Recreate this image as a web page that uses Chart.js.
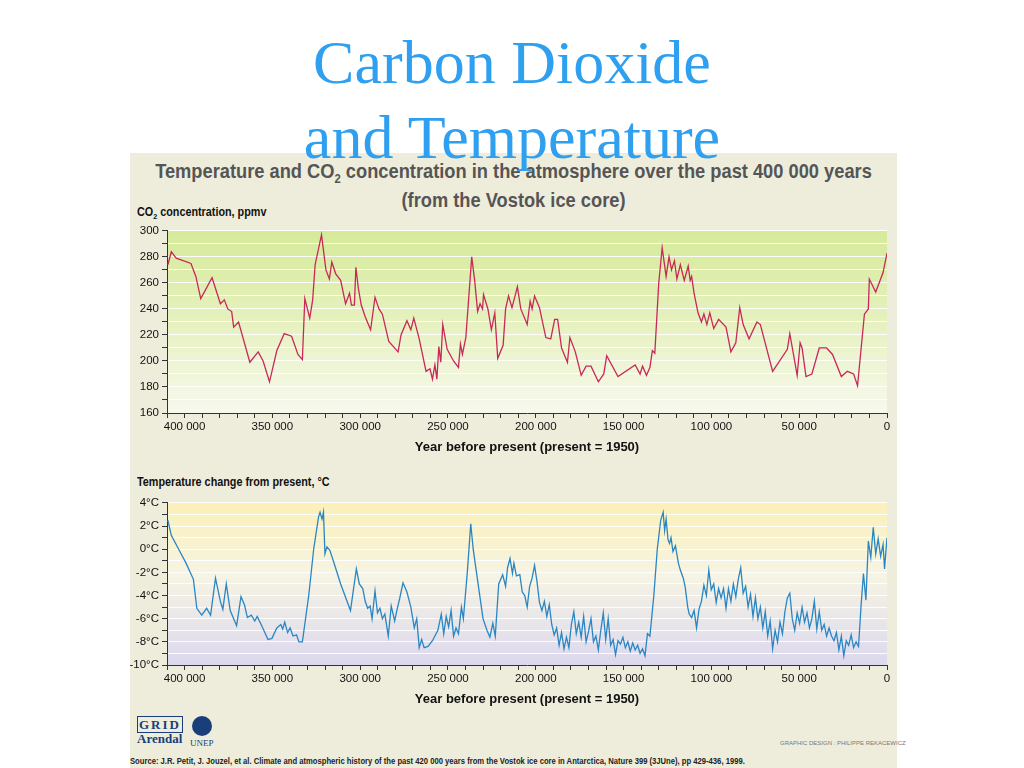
<!DOCTYPE html>
<html><head><meta charset="utf-8">
<script src="https://cdn.jsdelivr.net/npm/chart.js@4"></script>
<style>
body{margin:0;background:#fff;width:1024px;height:768px;overflow:hidden;position:relative;font-family:"Liberation Sans",Arial,sans-serif}
.t{position:absolute;left:0;width:1024px;text-align:center;font-family:"Liberation Serif","Times New Roman",serif;color:#2f9ff0;font-size:62px;line-height:62px}
#panel{position:absolute;left:130px;top:153px;width:767px;height:615px;background:#eeeddc}
.h{position:absolute;left:-100px;width:1227px;text-align:center;white-space:nowrap;color:#555;font-weight:bold;font-size:21px;transform:scaleX(0.87);transform-origin:center}
.lab{position:absolute;left:137px;font-weight:bold;font-size:12px;color:#111;transform:scaleX(0.9);transform-origin:left}
canvas{position:absolute}
</style></head><body>
<div id="panel"></div>
<div class="h" style="top:159px">Temperature and CO<sub style="font-size:13px">2</sub> concentration in the atmosphere over the past 400 000 years</div>
<div class="h" style="top:188px">(from the Vostok ice core)</div>
<div class="t" style="top:31px">Carbon Dioxide</div>
<div class="t" style="top:106px">and Temperature</div>
<div class="lab" style="top:205px">CO<sub style="font-size:8px">2</sub> concentration, ppmv</div>
<div class="lab" style="top:475px">Temperature change from present, °C</div>
<div style="position:absolute;left:137px;top:718px;font-family:'Liberation Serif',serif;font-weight:bold;color:#1a3e7a;font-size:13px;line-height:14px"><span style="border:1px solid #1a3e7a;letter-spacing:2px;padding:0 1px">GRID</span><br>Arendal</div>
<div style="position:absolute;left:192px;top:716px;width:20px;height:20px;border-radius:50%;background:#1a3e7a"></div>
<div style="position:absolute;left:190px;top:738px;font-family:'Liberation Serif',serif;color:#1a3e7a;font-size:9px">UNEP</div>
<div style="position:absolute;left:780px;top:740px;font-size:6px;color:#777">GRAPHIC DESIGN : PHILIPPE REKACEWICZ</div>
<div style="position:absolute;left:130px;top:756px;font-size:9px;color:#222;white-space:nowrap;font-weight:bold;transform:scaleX(0.85);transform-origin:left">Source: J.R. Petit, J. Jouzel, et al. Climate and atmospheric history of the past 420 000 years from the Vostok ice core in Antarctica, Nature 399 (3JUne), pp 429-436, 1999.</div>
<canvas id="c1" style="left:130px;top:221px" width="767" height="234"></canvas>
<canvas id="c2" style="left:130px;top:493px" width="767" height="214"></canvas>
<script>
// x readings are pixel offsets; converted with axis calibration (400 000 yr at 112, 0 at 1543)
const co2X=[78,85,95,125,135,145,168,185,193,200,208,212,222,245,262,272,285,300,315,330,343,352,357,367,373,378,391,400,407,412,420,430,440,448,452,458,461,466,472,480,491,500,508,515,528,547,553,565,573,579,590,604,612,617,622,626,630,634,638,647,660,670,674,678,685,697,703,709,714,719,721,730,737,744,750,761,766,772,779,786,790,797,810,816,820,825,835,848,858,866,872,880,892,897,908,920,930,940,955,966,972,995,1030,1040,1045,1053,1060,1065,1070,1078,1085,1093,1099,1104,1110,1115,1122,1130,1138,1142,1145,1150,1158,1165,1170,1176,1182,1190,1200,1215,1225,1235,1243,1250,1262,1278,1285,1310,1340,1345,1360,1366,1370,1378,1390,1405,1420,1432,1450,1462,1475,1483,1497,1505,1507,1520,1535,1543];
const co2Val=[274,284,279,275,265,248,264,244,247,240,238,226,230,199,207,200,184,208,221,219,205,201,248,233,247,274,297,270,263,276,267,262,244,252,243,243,272,256,243,234,224,249,240,236,215,207,220,231,224,233,217,192,194,186,197,186,211,199,228,209,200,195,213,205,218,280,262,238,244,240,251,240,224,237,202,212,240,250,241,251,257,240,228,246,240,250,241,218,217,232,232,210,199,218,207,189,196,196,184,190,204,188,197,190,196,189,195,208,206,260,287,265,280,270,277,263,274,262,273,262,265,252,237,230,236,228,237,225,232,226,207,214,241,228,217,230,228,192,209,221,189,214,210,188,190,210,210,205,188,192,190,181,236,240,263,253,268,283];
const tX=[78,85,100,115,130,137,147,157,165,175,185,190,197,205,218,227,234,240,248,255,260,268,282,290,300,308,312,316,322,327,333,340,345,352,365,375,385,388,392,395,398,402,408,415,430,450,462,468,475,480,485,490,494,500,505,510,515,520,527,533,540,545,550,557,565,573,580,585,590,595,600,608,617,628,635,640,645,650,655,660,665,670,676,680,688,695,700,710,720,728,734,740,745,752,760,766,770,775,780,783,788,795,800,805,810,815,820,825,830,835,840,845,850,855,860,865,870,875,880,885,890,895,900,905,910,915,920,925,930,935,940,945,950,955,960,965,970,975,980,985,990,995,1000,1005,1010,1015,1020,1025,1030,1035,1040,1045,1050,1055,1060,1068,1075,1082,1087,1090,1093,1097,1100,1103,1107,1112,1118,1122,1128,1132,1137,1140,1145,1150,1155,1160,1165,1170,1175,1180,1185,1190,1195,1200,1205,1210,1215,1220,1225,1230,1235,1240,1245,1250,1255,1260,1265,1270,1275,1280,1285,1290,1295,1300,1305,1310,1315,1320,1325,1330,1335,1340,1345,1350,1355,1360,1365,1370,1375,1380,1385,1390,1395,1400,1405,1410,1415,1420,1425,1430,1435,1440,1445,1450,1455,1460,1465,1470,1475,1480,1485,1490,1495,1500,1505,1510,1515,1520,1525,1530,1535,1538,1543];
const tVal=[2.5,1.2,0,-1.2,-2.6,-5.1,-5.7,-5.1,-5.7,-2.5,-4.5,-5.2,-3.0,-5.3,-6.6,-4.1,-4.8,-5.9,-5.7,-6.2,-5.8,-6.5,-7.8,-7.7,-6.8,-6.5,-6.9,-6.3,-7.2,-6.8,-7.5,-7.4,-8.0,-8.0,-4.0,0,2.8,3.2,2.6,3.2,-0.4,0.2,-0.1,-1,-3,-5.3,-1.7,-3.0,-3.4,-4.5,-5.1,-4.9,-6.0,-3.6,-5.5,-5.1,-6,-5.6,-7.5,-4.9,-6.2,-5.2,-4.3,-2.9,-3.7,-5.0,-6.8,-6.0,-8.5,-7.8,-8.5,-8.4,-7.9,-7.0,-5.6,-7.3,-5.8,-6.7,-5.3,-7.5,-6.8,-7.3,-5.0,-6.0,-2,2.2,0,-3,-6.0,-7.0,-7.6,-6.4,-7.5,-3.0,-2.2,-3.2,-1.6,-0.8,-2.1,-1.2,-2.3,-2.2,-3.7,-4.0,-5.0,-3.2,-2.5,-1.4,-2.8,-4.6,-5.3,-4.5,-5.8,-4.8,-6.5,-7.4,-6.8,-8.3,-7.2,-8.6,-7.6,-8.5,-6.5,-5.4,-7.3,-6.3,-7.6,-5.8,-8.0,-7.1,-6.0,-8.0,-7.5,-8.7,-7.0,-5.5,-7.8,-6.0,-8.3,-7.8,-9.1,-7.9,-8.2,-7.6,-8.5,-8.0,-8.8,-8.1,-8.7,-8.3,-9.0,-8.6,-9.2,-7.3,-7.5,-4,0,2.5,3.2,1.6,2.6,0.8,0.5,1.0,-0.2,0.3,-1.2,-1.8,-2.5,-3.3,-5.0,-5.6,-5.9,-5.3,-6.8,-5.2,-4.5,-3.1,-4.0,-1.8,-3.5,-3.0,-4.6,-3.4,-4.2,-3.4,-5.1,-3.4,-4.5,-3.0,-4.1,-2.6,-1.6,-3.8,-3.2,-5.0,-3.9,-5.8,-4.2,-6.0,-5.0,-6.8,-5.4,-7.5,-6.2,-8.6,-7.0,-8.0,-6.3,-7.3,-5.4,-4.2,-3.8,-6.0,-7.0,-5.5,-6.4,-5.0,-6.3,-5.5,-6.8,-6.0,-4.5,-6.9,-5.4,-7.0,-6.5,-7.5,-6.8,-7.5,-7.9,-7.2,-8.7,-7.5,-9.2,-7.9,-8.3,-7.4,-8.5,-8.0,-8.4,-5,-2.1,-4.4,0.7,-0.7,1.9,-0.4,0.9,-0.6,0.4,-1.7,1.0];
const xTickLabels=["400 000","350 000","300 000","250 000","200 000","150 000","100 000","50 000","0"];
const co2Ticks=[160,180,200,220,240,260,280,300];
const tTicks=["-10°C","-8°C","-6°C","-4°C","-2°C","0°C","2°C","4°C"];
const toAge=x=>(1543-x)*400000/1431;
const pts=(xs,vs)=>xs.map((x,i)=>({x:toAge(x),y:vs[i]}));

const bgPlugin={id:'bg',beforeDraw(c,a,o){const {ctx,chartArea:ca}=c;const g=ctx.createLinearGradient(0,ca.top,0,ca.bottom);o.stops.forEach(s=>g.addColorStop(s[0],s[1]));ctx.save();ctx.fillStyle=g;ctx.fillRect(ca.left,ca.top,ca.right-ca.left,ca.bottom-ca.top);ctx.restore();}};
function xScale(){return{type:'linear',reverse:true,min:0,max:410000,afterFit:s=>{s.height=42},
 grid:{drawOnChartArea:false,color:'#333',tickLength:5,tickColor:'#333'},border:{color:'#333'},
 ticks:{stepSize:10000,autoSkip:false,maxRotation:0,padding:2,color:'#111',font:{size:11.5},callback:v=>v%50000===0?xTickLabels[8-v/50000]:''},
 title:{display:true,text:'Year before present (present = 1950)',color:'#111',font:{size:13,weight:'bold'},padding:{top:0,bottom:0}}};}
function mk(id,data,color,ymin,ymax,step,cb,stops){
 new Chart(document.getElementById(id),{type:'line',plugins:[bgPlugin],
 data:{datasets:[{data,borderColor:color,borderWidth:1.3,pointRadius:0,tension:0}]},
 options:{responsive:false,animation:false,layout:{padding:{top:5,right:10}},
  plugins:{legend:{display:false},tooltip:{enabled:false},bg:{stops}},
  scales:{x:xScale(),y:{min:ymin,max:ymax,afterFit:s=>{s.width=37},
   grid:{color:'rgba(255,255,255,0.9)',tickLength:5,tickColor:'#333'},border:{color:'#333'},
   ticks:{stepSize:step,autoSkip:false,color:'#111',font:{size:11.5},callback:cb}}}}});
}
mk('c1',pts(co2X,co2Val),'#c8285a',160,300,10,v=>v%20===0?String(co2Ticks[(v-160)/20]):'',[[0,'#d6ea9a'],[0.5,'#e6f1bf'],[1,'#f7f9ee']]);
mk('c2',pts(tX,tVal),'#2a86c2',-10,4,1,v=>v%2===0?tTicks[(v+10)/2]:'',[[0,'#fbf0b8'],[0.45,'#f6f4e4'],[1,'#dcd8ee']]);
</script></body></html>
